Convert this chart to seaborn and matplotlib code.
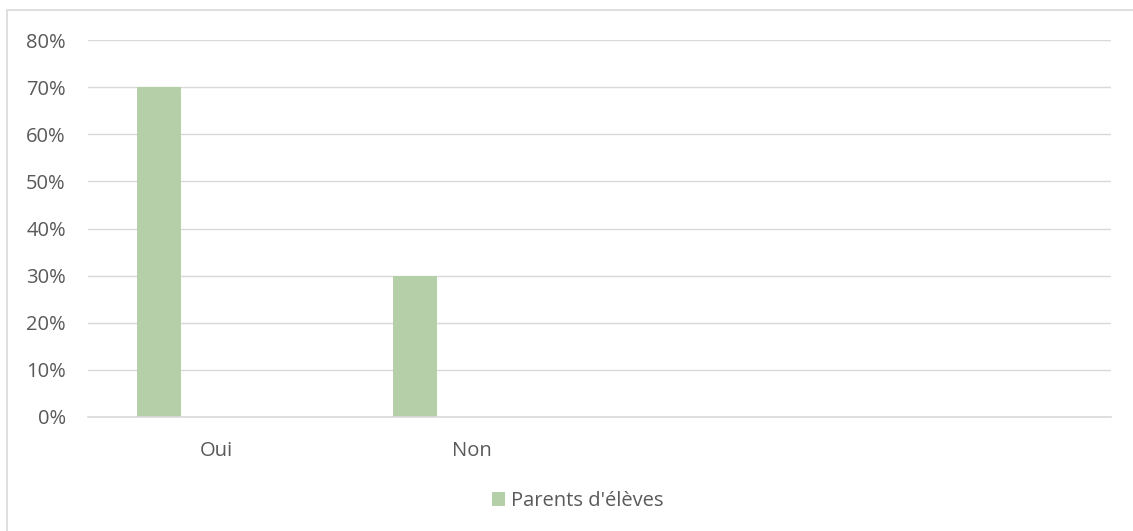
import numpy as np
import pandas as pd
import matplotlib
matplotlib.use("Agg")
import matplotlib.pyplot as plt
import seaborn as sns
from matplotlib.patches import Rectangle, Patch

categories = ["Oui", "Non", "", " "]
series_names = ["Parents d'élèves", "_s2", "_s3"]
parents = [70, 30, np.nan, np.nan]
s2 = [np.nan, np.nan, np.nan, np.nan]
s3 = [np.nan, np.nan, np.nan, np.nan]
yticks = [0, 10, 20, 30, 40, 50, 60, 70, 80]

rows = []
for name, vals in zip(series_names, [parents, s2, s3]):
    for c, v in zip(categories, vals):
        rows.append({"cat": c, "series": name, "val": v})
df = pd.DataFrame(rows)

sns.set_theme(style="white")
plt.rcParams['font.family'] = ['Open Sans', 'DejaVu Sans']

bar_color = "#B5D0A8"
text_color = "#595959"
grid_color = "#D9D9D9"

fig = plt.figure(figsize=(11.33, 5.31), dpi=100)
ax = fig.add_axes([88/1133, 114/531, (1111-88)/1133, (417-40)/531])

sns.barplot(data=df, x="cat", y="val", hue="series", order=categories,
            hue_order=series_names, palette=[bar_color, "#A5A5A5", "#FFC000"],
            width=0.668, gap=0.23, ax=ax, legend=False, errorbar=None,
            saturation=1, linewidth=0)

ax.set_xlim(-0.5, len(categories) - 0.5)
ax.set_ylim(0, 80)
ax.set_yticks(yticks)
ax.set_yticklabels([f"{t}%" for t in yticks])
ax.yaxis.grid(True, color=grid_color, linewidth=1)
ax.set_axisbelow(True)
for s in ["left", "right", "top"]:
    ax.spines[s].set_visible(False)
ax.spines["bottom"].set_color(grid_color)
ax.spines["bottom"].set_linewidth(1.2)
ax.tick_params(axis="both", length=0, colors=text_color, labelsize=14.5)
ax.tick_params(axis="x", pad=17)
ax.tick_params(axis="y", pad=16)
ax.set_xlabel("")
ax.set_ylabel("")

fig.patches.append(Rectangle((7/1133, -0.01), 1.02, (531-10)/531 + 0.01,
                             transform=fig.transFigure, fill=False,
                             edgecolor="#D9D9D9", linewidth=1.2))

handles = [Patch(facecolor=bar_color, edgecolor="none", label=series_names[0])]
fig.legend(handles=handles, loc="center", bbox_to_anchor=(578/1133, 1 - 501/531),
           frameon=False, fontsize=14.5, labelcolor=text_color,
           handlelength=0.65, handleheight=0.65, handletextpad=0.3)

fig.savefig("out.png", dpi=100)
